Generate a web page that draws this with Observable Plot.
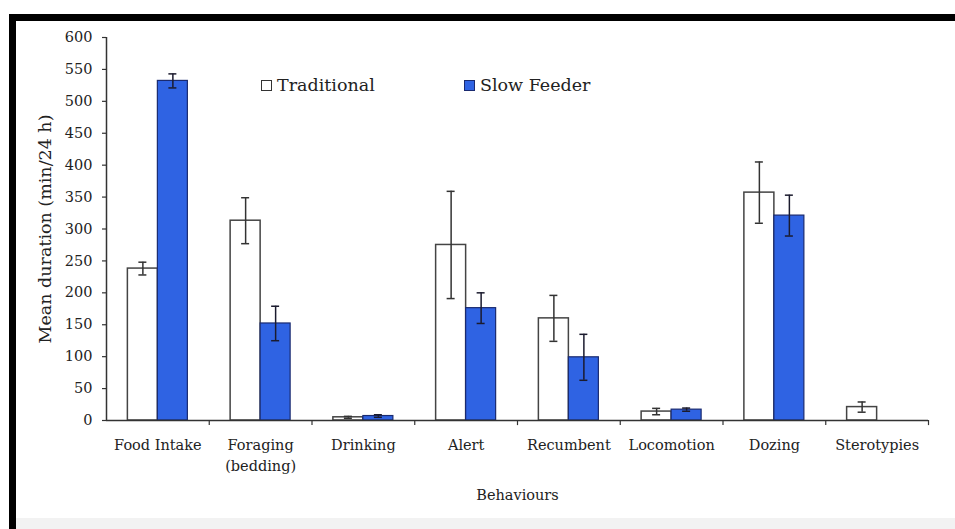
<!DOCTYPE html>
<html>
<head>
<meta charset="utf-8">
<script src="https://cdn.jsdelivr.net/npm/d3@7"></script>
<script src="https://cdn.jsdelivr.net/npm/@observablehq/plot@0.6"></script>
<style>
  body { margin: 0; background: #fff; }
  #wrap { position: relative; width: 955px; height: 529px; background: #fff; overflow: hidden; font-family: "DejaVu Serif", serif; color: #222; }
  #chart { position: absolute; left: 0; top: 0; }
  .bar-top { position: absolute; left: 9px; top: 14px; width: 946px; height: 7px; background: #000; }
  .bar-left { position: absolute; left: 9px; top: 14px; width: 7px; height: 515px; background: #000; }
  .band-bottom { position: absolute; left: 16px; top: 518px; width: 939px; height: 11px; background: #f2f2f2; }
  .legend-item { position: absolute; top: 75px; font-size: 17.5px; line-height: 20px; white-space: nowrap; display: flex; align-items: center; }
  .sw { display: inline-block; width: 9px; height: 9px; margin-right: 5px; border: 1px solid #333; }
</style>
</head>
<body>
<div id="wrap">
  <div id="chart"></div>
  <div class="legend-item" style="left:261px"><span class="sw" style="background:#fff"></span>Traditional</div>
  <div class="legend-item" style="left:464px"><span class="sw" style="background:#2f63e3;border-color:#1a2a70"></span>Slow Feeder</div>
  <div class="bar-top"></div>
  <div class="bar-left"></div>
  <div class="band-bottom"></div>
</div>
<script>
// ---- data ----
const categories = ["Food Intake", "Foraging (bedding)", "Drinking", "Alert", "Recumbent", "Locomotion", "Dozing", "Sterotypies"];
const tickLabels = ["Food Intake", "Foraging\n(bedding)", "Drinking", "Alert", "Recumbent", "Locomotion", "Dozing", "Sterotypies"];
const traditional = [238, 313, 5, 275, 160, 14, 357, 21];
const traditionalErr = [10, 36, 1.5, 84, 36, 5, 48, 8];
const slowFeeder = [532, 152, 7, 176, 99, 17, 321, 0];
const slowFeederErr = [11, 27, 2, 24, 36, 2.5, 32, 0];
const yTicks = [0, 50, 100, 150, 200, 250, 300, 350, 400, 450, 500, 550, 600];
const seriesNames = ["Traditional", "Slow Feeder"];
const yLabel = "Mean duration (min/24 h)";
const xLabel = "Behaviours";

// ---- layout ----
const W = 955, H = 515, ML = 106, MR = 27, MT = 37, MB = 95;
const bw = (W - ML - MR) / categories.length;
const barW = 30, capHalf = 4;

const tradRows = categories.map((c, i) => ({cat: c, v: traditional[i], e: traditionalErr[i]}));
const slowRows = categories.map((c, i) => ({cat: c, v: slowFeeder[i], e: slowFeederErr[i]})).filter(d => d.v > 0);

const blue = "#2f63e3";
const ink = "#333";
const labelOf = new Map(categories.map((c, i) => [c, tickLabels[i]]));

const chart = Plot.plot({
  width: W, height: H,
  marginLeft: ML, marginRight: MR, marginTop: MT, marginBottom: MB,
  style: {fontFamily: "DejaVu Serif", fontSize: "14.5px", color: "#222", background: "transparent", overflow: "visible"},
  x: {domain: categories, padding: 0, round: false, axis: null},
  y: {domain: [0, 600], axis: null},
  marks: [
    // bars
    Plot.barY(tradRows, {x: "cat", y: "v", fill: "white", stroke: "#444", strokeWidth: 1.5,
      insetLeft: bw / 2 - barW, insetRight: bw / 2}),
    Plot.barY(slowRows, {x: "cat", y: "v", fill: blue, stroke: "#1a2a70", strokeWidth: 1.2,
      insetLeft: bw / 2, insetRight: bw / 2 - barW}),
    // error bars
    Plot.ruleX(tradRows, {x: "cat", y1: d => d.v - d.e, y2: d => d.v + d.e, dx: -barW / 2, stroke: ink, strokeWidth: 1.5}),
    Plot.tickY(tradRows, {x: "cat", y: d => d.v + d.e, stroke: ink, strokeWidth: 1.5,
      insetLeft: bw / 2 - barW / 2 - capHalf, insetRight: bw / 2 + barW / 2 - capHalf}),
    Plot.tickY(tradRows, {x: "cat", y: d => d.v - d.e, stroke: ink, strokeWidth: 1.5,
      insetLeft: bw / 2 - barW / 2 - capHalf, insetRight: bw / 2 + barW / 2 - capHalf}),
    Plot.ruleX(slowRows, {x: "cat", y1: d => d.v - d.e, y2: d => d.v + d.e, dx: barW / 2, stroke: "#1b1b2e", strokeWidth: 1.5}),
    Plot.tickY(slowRows, {x: "cat", y: d => d.v + d.e, stroke: "#1b1b2e", strokeWidth: 1.5,
      insetLeft: bw / 2 + barW / 2 - capHalf, insetRight: bw / 2 - barW / 2 - capHalf}),
    Plot.tickY(slowRows, {x: "cat", y: d => d.v - d.e, stroke: "#1b1b2e", strokeWidth: 1.5,
      insetLeft: bw / 2 + barW / 2 - capHalf, insetRight: bw / 2 - barW / 2 - capHalf}),
    // axes
    Plot.axisY({ticks: yTicks, tickSize: 4, tickPadding: 10, label: null, stroke: ink, strokeWidth: 1.2, fill: "#222"}),
    Plot.ruleX([categories[0]], {dx: -bw / 2, y1: 0, y2: 600, stroke: ink, strokeWidth: 1.5}),
    Plot.ruleY([0], {stroke: ink, strokeWidth: 1.5}),
    Plot.ruleX(categories, {dx: bw / 2, y1: 0, y2: -8, stroke: ink, strokeWidth: 1.2}),
    Plot.axisX({tickSize: 0, tickPadding: 15, label: null, tickFormat: d => labelOf.get(d), lineHeight: 1.45, fill: "#222"}),
    // axis titles
    Plot.text([yLabel], {frameAnchor: "left", rotate: -90, dx: -61, text: d => d, fontSize: 17.5, fill: "#222", textAnchor: "middle", lineAnchor: "middle"}),
    Plot.text([xLabel], {frameAnchor: "bottom", dy: 75, text: d => d, fontSize: 14.5, fill: "#222", lineAnchor: "middle"})
  ]
});
document.getElementById("chart").appendChild(chart);
</script>
</body>
</html>
